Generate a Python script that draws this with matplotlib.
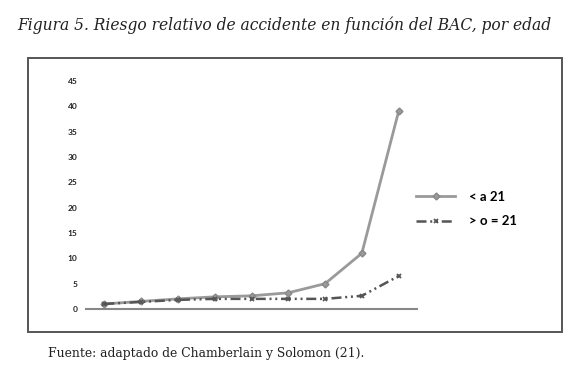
import matplotlib
matplotlib.use("Agg")
import matplotlib.pyplot as plt
from matplotlib.patches import Rectangle

title = "Figura 5. Riesgo relativo de accidente en función del BAC, por edad"
source = "Fuente: adaptado de Chamberlain y Solomon (21)."
labels = ["< a 21", "> o = 21"]
categories = list(range(1, 10))
under21 = [1.0, 1.5, 2.0, 2.4, 2.6, 3.2, 5.0, 11.0, 39.0]
over21 = [1.0, 1.4, 1.8, 2.0, 2.0, 2.0, 2.0, 2.6, 6.5]
yticks = [0, 5, 10, 15, 20, 25, 30, 35, 40, 45]

W, H = 578, 381
fig = plt.figure(figsize=(W / 100, H / 100), dpi=100)

def fx(px):
    return px / W

def fy(py):
    return 1 - py / H

# outer frame
fig.patches.append(Rectangle((fx(28), fy(332)), fx(562) - fx(28), fy(58) - fy(332),
                             transform=fig.transFigure, fill=False,
                             edgecolor="#555555", linewidth=1.4))

ax = fig.add_axes([fx(86), fy(309), fx(417) - fx(86), fy(81) - fy(309)])
ax.set_xlim(0.5, 9.5)
ax.set_ylim(0, 45)
l1, = ax.plot(categories, under21, color="#9a9a9a", linewidth=2.0, marker="D",
              markersize=3.5, markerfacecolor="#9a9a9a", markeredgecolor="#888888",
              clip_on=False, label=labels[0])
l2, = ax.plot(categories, over21, color="#555555", linewidth=1.8,
              linestyle=(0, (4, 1.5, 0.8, 1.5, 0.8, 1.5)), marker="x", markersize=3.5,
              markeredgewidth=1.3, clip_on=False, label=labels[1])
for s in ["top", "right", "left"]:
    ax.spines[s].set_visible(False)
ax.spines["bottom"].set_color("#888888")
ax.spines["bottom"].set_linewidth(1.5)
ax.set_xticks([])
ax.set_yticks(yticks)
ax.set_yticklabels([str(t) for t in yticks], fontfamily="Lato", fontweight="bold",
                   fontsize=6, color="#222222")
ax.tick_params(axis="y", length=0, pad=6)

fig.legend(handles=[l1, l2], loc="center left",
           bbox_to_anchor=(fx(404), fy(209)), frameon=False,
           prop={"family": "Lato", "weight": "bold", "size": 9.5},
           handlelength=3.0, handletextpad=1.0, labelspacing=0.95)

fig.text(fx(17), fy(25), title, fontfamily="DejaVu Serif", fontstyle="italic",
         fontsize=11.2, ha="left", va="center", color="#222222")
fig.text(fx(48), fy(353), source, fontfamily="DejaVu Serif",
         fontsize=8.9, ha="left", va="center", color="#222222")

fig.savefig("out.png", dpi=100)
